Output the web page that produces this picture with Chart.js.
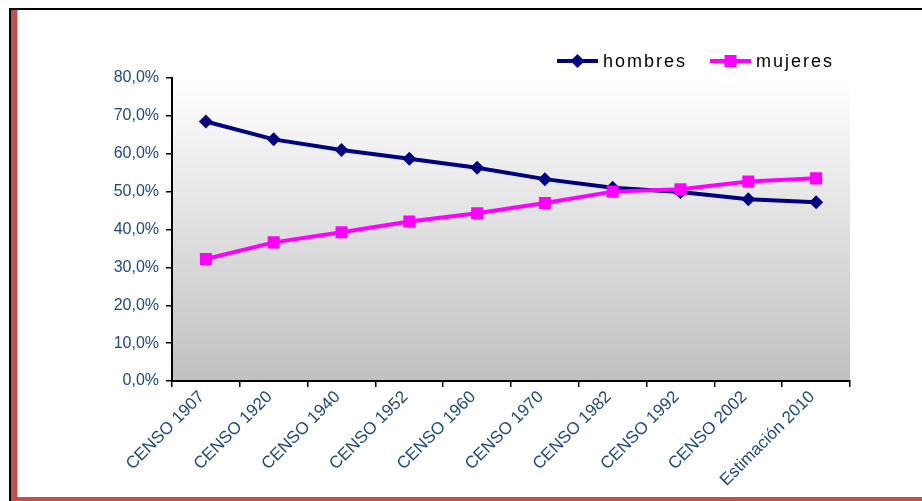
<!DOCTYPE html>
<html>
<head>
<meta charset="utf-8">
<script src="https://cdn.jsdelivr.net/npm/chart.js@4/dist/chart.umd.min.js"></script>
<style>
html,body{margin:0;padding:0;background:#fff;}
#wrap{width:922px;height:501px;position:relative;}
</style>
</head>
<body>
<div id="wrap"><canvas id="c" width="922" height="501"></canvas></div>
<script>
const categories = ['CENSO 1907','CENSO 1920','CENSO 1940','CENSO 1952','CENSO 1960','CENSO 1970','CENSO 1982','CENSO 1992','CENSO 2002','Estimación 2010'];
const hombres = [68.5, 63.8, 61.0, 58.7, 56.3, 53.3, 51.0, 49.9, 48.0, 47.2];
const mujeres = [32.2, 36.6, 39.3, 42.1, 44.3, 47.0, 50.0, 50.6, 52.7, 53.5];
const yTicks = [0, 10, 20, 30, 40, 50, 60, 70, 80];

const labelColor = '#1F497D';

const framePlugin = {
  id: 'frame',
  beforeDraw(chart) {
    const ctx = chart.ctx;
    ctx.save();
    ctx.fillStyle = '#ffffff';
    ctx.fillRect(0, 0, chart.width, chart.height);
    ctx.fillStyle = '#000000';
    ctx.fillRect(9, 8, chart.width - 9, 2);
    ctx.fillRect(9, 8, 2, chart.height - 8);
    ctx.fillStyle = '#C0504D';
    ctx.fillRect(11, 10, 6.5, chart.height - 10);
    ctx.fillRect(11, 497, chart.width - 11, 4);
    const a = chart.chartArea;
    const g = ctx.createLinearGradient(0, a.top, 0, a.bottom);
    g.addColorStop(0, '#ffffff');
    g.addColorStop(1, '#c0c0c0');
    ctx.fillStyle = g;
    ctx.fillRect(a.left, a.top, a.right - a.left, a.bottom - a.top);
    ctx.restore();
  },
  afterDraw(chart) {
    const ctx = chart.ctx;
    ctx.save();
    const items = [
      {label: 'hombres', ds: chart.data.datasets[0], x: 557},
      {label: 'mujeres', ds: chart.data.datasets[1], x: 710}
    ];
    const y = 61;
    items.forEach(it => {
      ctx.strokeStyle = it.ds.borderColor;
      ctx.lineWidth = 4;
      ctx.beginPath();
      ctx.moveTo(it.x, y);
      ctx.lineTo(it.x + 41, y);
      ctx.stroke();
      ctx.fillStyle = it.ds.pointBackgroundColor;
      const cx = it.x + 20.5;
      if (it.ds.pointStyle === 'rectRot') {
        const r = 7;
        ctx.beginPath();
        ctx.moveTo(cx - r, y); ctx.lineTo(cx, y - r); ctx.lineTo(cx + r, y); ctx.lineTo(cx, y + r);
        ctx.closePath(); ctx.fill();
      } else {
        ctx.fillRect(cx - 6, y - 6, 12, 12);
      }
      ctx.fillStyle = '#000000';
      ctx.font = '18px "Liberation Sans", Arial, sans-serif';
      ctx.letterSpacing = '2px';
      ctx.textBaseline = 'middle';
      ctx.textAlign = 'left';
      ctx.fillText(it.label, it.x + 46, y + 1);
    });
    ctx.restore();
  }
};

new Chart(document.getElementById('c'), {
  type: 'line',
  data: {
    labels: categories,
    datasets: [
      {
        label: 'hombres',
        data: hombres,
        borderColor: '#000080',
        backgroundColor: '#000080',
        pointBackgroundColor: '#000080',
        pointBorderColor: '#000080',
        borderWidth: 4,
        pointStyle: 'rectRot',
        pointRadius: 7,
        pointBorderWidth: 0,
        tension: 0,
        order: 1
      },
      {
        label: 'mujeres',
        data: mujeres,
        borderColor: '#FF00FF',
        backgroundColor: '#FF00FF',
        pointBackgroundColor: '#FF00FF',
        pointBorderColor: '#FF00FF',
        borderWidth: 4,
        pointStyle: 'rect',
        pointRadius: 8.5,
        pointBorderWidth: 0,
        tension: 0,
        order: 0
      }
    ]
  },
  options: {
    responsive: false,
    animation: false,
    devicePixelRatio: 1,
    layout: {padding: {left: 0, top: 78, right: 72, bottom: 0}},
    plugins: {legend: {display: false}, tooltip: {enabled: false}},
    scales: {
      x: {
        offset: true,
        grid: {offset: true, drawOnChartArea: false, drawTicks: true, tickLength: 6, color: '#000', lineWidth: 1.5},
        border: {display: true, color: '#000', width: 2},
        ticks: {
          color: labelColor,
          font: {family: '"Liberation Sans", Arial, sans-serif', size: 17},
          minRotation: 45, maxRotation: 45, autoSkip: false, padding: 0, labelOffset: -4
        },
        afterFit(scale) { scale.height = 120; }
      },
      y: {
        min: 0, max: 80,
        afterBuildTicks(scale) { scale.ticks = yTicks.map(v => ({value: v})); },
        grid: {drawOnChartArea: false, drawTicks: true, tickLength: 6, color: '#000', lineWidth: 1.5},
        border: {display: true, color: '#000', width: 2},
        ticks: {
          color: labelColor,
          font: {family: '"Liberation Sans", Arial, sans-serif', size: 16},
          padding: 7,
          callback: v => v.toFixed(1).replace('.', ',') + '%'
        },
        afterFit(scale) { scale.width = 172; }
      }
    }
  },
  plugins: [framePlugin]
});
</script>
</body>
</html>
